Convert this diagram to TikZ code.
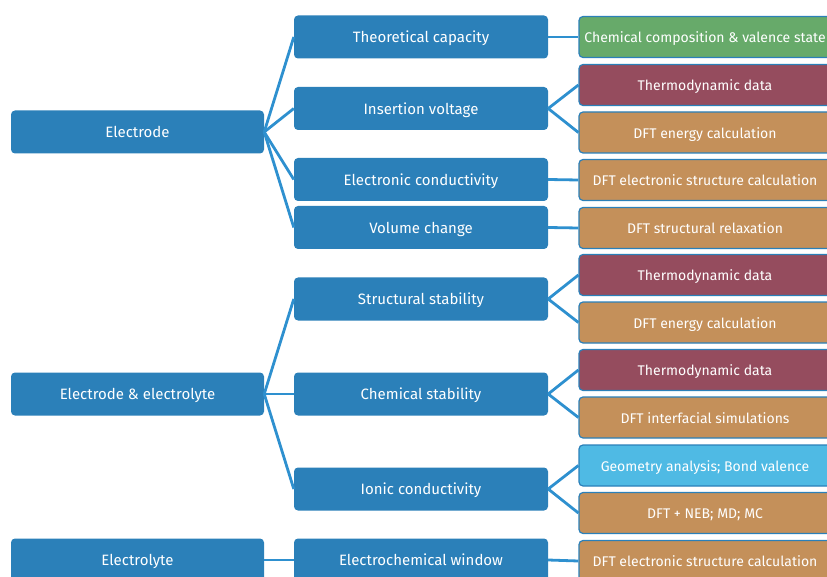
\documentclass[tikz,border=0pt]{standalone}
\usepackage{fontspec}
\setmainfont{Fira Sans}
\definecolor{boxblue}{HTML}{2B80B9}
\definecolor{linkblue}{HTML}{2E90CF}
\definecolor{compgreen}{HTML}{67AA6A}
\definecolor{thermored}{HTML}{954C5E}
\definecolor{dfttan}{HTML}{C4905A}
\definecolor{geosky}{HTML}{4FBAE4}
\begin{document}
\begin{tikzpicture}[x=1pt,y=-1pt,
        box/.style={rounded corners=4pt,text=white,inner sep=0,minimum height=43pt,
            text height=12.5pt,text depth=1pt},
        topic/.style={box,fill=boxblue,minimum width=253pt,font=\fontsize{15}{18}\selectfont},
        prop/.style={box,fill=boxblue,minimum width=254pt,font=\fontsize{15}{18}\selectfont},
        method/.style={box,draw=boxblue,line width=1.2pt,minimum width=252pt,minimum height=41pt,
            font=\fontsize{14}{17}\selectfont},
        link/.style={draw=linkblue,line width=2.8pt},
        ]
        \useasboundingbox (0,0) rectangle (827,577);
        \clip (0,0) rectangle (827,577);

        % topics
        \node[topic] (electrode) at (137.5,132) {Electrode};
        \node[topic] (both) at (137.5,394) {Electrode \& electrolyte};
        \node[topic] (electrolyte) at (137.5,560) {Electrolyte};

        % properties
        \node[prop] (capacity) at (421,37) {Theoretical capacity};
        \node[prop] (voltage) at (421,108.5) {Insertion voltage};
        \node[prop] (econd) at (421,179.5) {Electronic conductivity};
        \node[prop] (volume) at (421,227.5) {Volume change};
        \node[prop] (sstab) at (421,299) {Structural stability};
        \node[prop] (cstab) at (421,394) {Chemical stability};
        \node[prop] (icond) at (421,489) {Ionic conductivity};
        \node[prop] (window) at (421,560) {Electrochemical window};

        % methods
        \node[method,fill=compgreen] (comp) at (705,37) {Chemical composition \& valence state};
        \node[method,fill=thermored] (thermoA) at (705,85) {Thermodynamic data};
        \node[method,fill=dfttan] (energyA) at (705,132.5) {DFT energy calculation};
        \node[method,fill=dfttan] (elecA) at (705,180) {DFT electronic structure calculation};
        \node[method,fill=dfttan] (relax) at (705,228) {DFT structural relaxation};
        \node[method,fill=thermored] (thermoB) at (705,275) {Thermodynamic data};
        \node[method,fill=dfttan] (energyB) at (705,322.5) {DFT energy calculation};
        \node[method,fill=thermored] (thermoC) at (705,370) {Thermodynamic data};
        \node[method,fill=dfttan] (interface) at (705,417.5) {DFT interfacial simulations};
        \node[method,fill=geosky] (geometry) at (705,465.5) {Geometry analysis; Bond valence};
        \node[method,fill=dfttan] (neb) at (705,513) {DFT + NEB; MD; MC};
        \node[method,fill=dfttan] (elecB) at (705,561) {DFT electronic structure calculation};

        \foreach \a/\b in {electrode/capacity,electrode/voltage,electrode/econd,electrode/volume,
                both/sstab,both/cstab,both/icond,electrolyte/window,
                capacity/comp,voltage/thermoA,voltage/energyA,econd/elecA,volume/relax,
                sstab/thermoB,sstab/energyB,cstab/thermoC,cstab/interface,
                icond/geometry,icond/neb,window/elecB}{
            \path[link] (\a.east) -- (\b.west);
        }
\end{tikzpicture}
\end{document}
